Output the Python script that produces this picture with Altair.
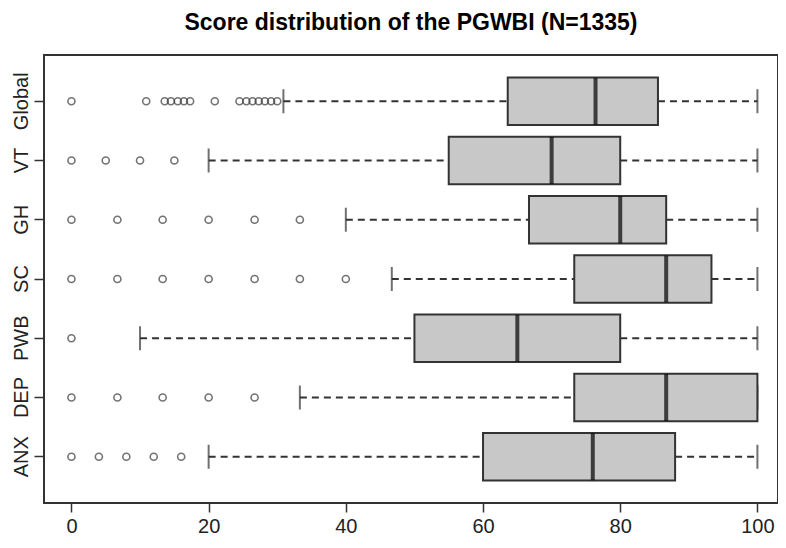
import altair as alt
import pandas as pd

categories = ["Global", "VT", "GH", "SC", "PWB", "DEP", "ANX"]
q1 = [63.6, 55.0, 66.7, 73.3, 50.0, 73.3, 60.0]
median = [76.4, 70.0, 80.0, 86.7, 65.0, 86.7, 76.0]
q3 = [85.5, 80.0, 86.7, 93.3, 80.0, 100.0, 88.0]
whisker_low = [30.9, 20.0, 40.0, 46.7, 10.0, 33.3, 20.0]
whisker_high = [100.0, 100.0, 100.0, 100.0, 100.0, 100.0, 100.0]

out_global = [0, 10.9, 13.6, 14.5, 15.5, 16.4, 17.3, 20.9, 24.5, 25.5, 26.4, 27.3, 28.2, 29.1, 30.0]
out_vt = [0, 5, 10, 15]
out_gh = [0, 6.7, 13.3, 20, 26.7, 33.3]
out_sc = [0, 6.7, 13.3, 20, 26.7, 33.3, 40]
out_pwb = [0]
out_dep = [0, 6.7, 13.3, 20, 26.7]
out_anx = [0, 4, 8, 12, 16]
outlier_lists = [out_global, out_vt, out_gh, out_sc, out_pwb, out_dep, out_anx]

x_ticks = [0, 20, 40, 60, 80, 100]

stats = pd.DataFrame({
    "cat": categories, "q1": q1, "median": median, "q3": q3,
    "low": whisker_low, "high": whisker_high,
})
outs = pd.DataFrame(
    [{"cat": c, "val": v} for c, vals in zip(categories, outlier_lists) for v in vals]
)

FONT = "Liberation Sans"
DARK = "#333333"

xscale = alt.Scale(domain=[-4, 103], nice=False, zero=False)
yscale = alt.Scale(domain=categories, paddingInner=0.2, paddingOuter=0.38)

xaxis = alt.Axis(values=x_ticks, title=None, grid=False, domain=False,
                 tickSize=9, tickWidth=1.5, tickColor=DARK,
                 labelFontSize=20, labelColor="#222", labelPadding=4, labelFont=FONT)
yaxis = alt.Axis(title=None, grid=False, domain=False,
                 tickSize=10, tickWidth=1.5, tickColor=DARK,
                 labelFontSize=20, labelColor="#222", labelPadding=7, labelFont=FONT,
                 labelAngle=270, labelAlign="center", labelBaseline="alphabetic")

base = alt.Chart(stats)
Y = alt.Y("cat:N", scale=yscale, axis=yaxis, sort=categories)

w_low = base.mark_rule(strokeDash=[7, 5], strokeWidth=2, color=DARK).encode(
    x=alt.X("low:Q", scale=xscale, axis=xaxis), x2="q1:Q", y=Y)
w_high = base.mark_rule(strokeDash=[7, 5], strokeWidth=2, color=DARK).encode(
    x=alt.X("q3:Q", scale=xscale, axis=xaxis), x2="high:Q", y=Y)
cap_low = base.mark_tick(size=24, thickness=2, color=DARK).encode(
    x=alt.X("low:Q", scale=xscale, axis=xaxis), y=Y)
cap_high = base.mark_tick(size=24, thickness=2, color=DARK).encode(
    x=alt.X("high:Q", scale=xscale, axis=xaxis), y=Y)
box = base.mark_bar(fill="#c8c8c8", stroke=DARK, strokeWidth=2).encode(
    x=alt.X("q1:Q", scale=xscale, axis=xaxis), x2="q3:Q", y=Y)
med = base.mark_tick(size=47, thickness=4, color="black").encode(
    x=alt.X("median:Q", scale=xscale, axis=xaxis), y=Y)
pts = alt.Chart(outs).mark_point(shape="circle", filled=False, size=50,
                                 strokeWidth=1.6, color="#3a3a3a").encode(
    x=alt.X("val:Q", scale=xscale, axis=xaxis), y=Y)

chart = alt.layer(w_low, w_high, cap_low, cap_high, box, med, pts).properties(
    width=734, height=448,
    title=alt.TitleParams("Score distribution of the PGWBI (N=1335)",
                          font=FONT, fontSize=23, fontWeight="bold", color="black",
                          anchor="middle", offset=20),
    padding={"left": 36, "top": 47, "right": 0, "bottom": 33},
    autosize=alt.AutoSizeParams(type="none"),
).configure_view(stroke=DARK, strokeWidth=2)

chart.save("out.html", embed_options={"renderer": "svg", "actions": False})
